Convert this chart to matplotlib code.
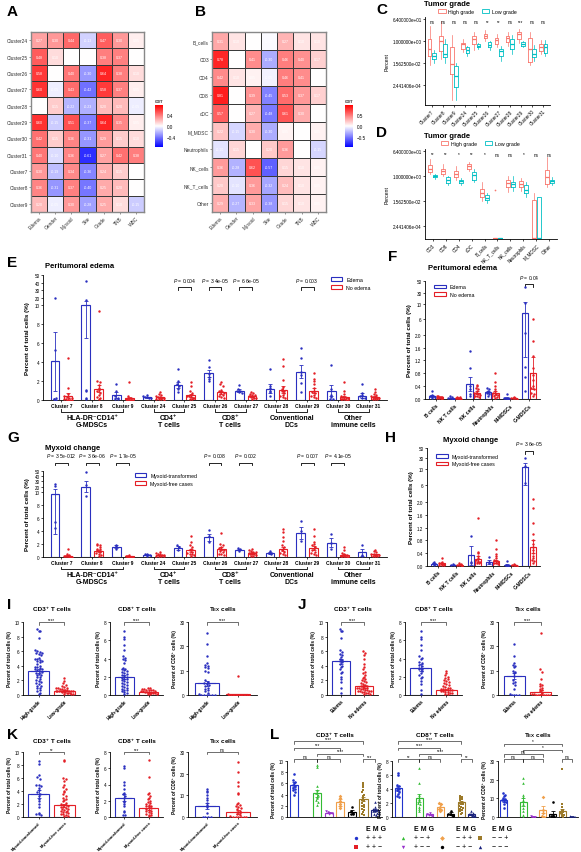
import numpy as np
import matplotlib.pyplot as plt
from matplotlib.colors import LinearSegmentedColormap
from matplotlib.patches import Patch

plt.rcParams['font.family'] = ['Liberation Sans', 'DejaVu Sans']
plt.rcParams['mathtext.fontset'] = 'custom'
plt.rcParams['mathtext.rm'] = 'Liberation Sans'
plt.rcParams['mathtext.it'] = 'Liberation Sans:italic'
plt.rcParams['mathtext.bf'] = 'Liberation Sans:bold'
plt.rcParams['axes.linewidth'] = 0.6
plt.rcParams['xtick.major.width'] = 0.5
plt.rcParams['ytick.major.width'] = 0.5
plt.rcParams['xtick.major.size'] = 1.5
plt.rcParams['ytick.major.size'] = 1.5
plt.rcParams['xtick.major.pad'] = 1
plt.rcParams['ytick.major.pad'] = 1

# ---------------- data ----------------
clin_cols = ['Edema', 'Gender', 'Myxoid', 'Site', 'Grade', 'TNB', 'WBC']

a_rows = ['Cluster24', 'Cluster25', 'Cluster26', 'Cluster27', 'Cluster28', 'Cluster29',
          'Cluster30', 'Cluster31', 'Cluster7', 'Cluster8', 'Cluster9']
a_corr = [[0.27, 0.30, 0.44, -0.13, 0.47, 0.30, 0.05],
          [0.48, 0.10, 0.00, 0.00, 0.38, 0.37, 0.00],
          [0.58, 0.00, 0.40, -0.30, 0.64, 0.38, 0.10],
          [0.60, -0.05, 0.43, -0.42, 0.58, 0.37, 0.05],
          [0.00, 0.15, -0.22, -0.23, 0.20, 0.20, -0.05],
          [0.60, -0.15, 0.51, -0.37, 0.64, 0.35, 0.05],
          [0.42, 0.15, 0.36, -0.31, 0.29, 0.15, 0.10],
          [0.40, -0.10, 0.36, -0.61, 0.27, 0.42, 0.38],
          [0.30, -0.19, 0.34, -0.36, 0.24, 0.15, 0.00],
          [0.36, -0.31, 0.37, -0.40, 0.25, 0.20, 0.00],
          [0.20, -0.05, 0.30, -0.28, 0.25, 0.10, -0.15]]

b_rows = ['B_cells', 'CD3', 'CD4', 'CD8', 'cDC', 'M_MDSC', 'Neutrophils',
          'NK_cells', 'NK_T_cells', 'Other']
b_corr = [[0.31, 0.10, 0.00, -0.02, 0.27, 0.10, 0.10],
          [0.78, 0.00, 0.41, -0.30, 0.46, 0.40, 0.17],
          [0.42, 0.10, 0.05, -0.05, 0.46, 0.41, 0.00],
          [0.81, 0.00, 0.39, -0.45, 0.53, 0.37, 0.17],
          [0.57, 0.00, 0.27, -0.48, 0.61, 0.30, 0.00],
          [0.22, -0.15, 0.30, -0.30, 0.05, 0.00, 0.05],
          [-0.10, 0.15, 0.00, 0.20, 0.36, 0.00, -0.15],
          [0.36, -0.28, 0.62, -0.57, 0.15, 0.10, 0.05],
          [0.20, -0.10, 0.36, -0.32, 0.24, 0.10, 0.05],
          [0.29, -0.27, 0.33, -0.38, 0.15, 0.10, 0.05]]

# tumor grade box plots (log2 of percent)
c_cats = ['Cluster7', 'Cluster8', 'Cluster9', 'Cluster24', 'Cluster25', 'Cluster26',
          'Cluster27', 'Cluster28', 'Cluster29', 'Cluster30', 'Cluster31']
c_sig = ['ns', 'ns', 'ns', 'ns', 'ns', '**', '**', 'ns', '***', 'ns', 'ns']
c_high_med = [-2.3, 0.0, -6.4, -0.9, 0.45, 1.4, 0.2, 0.7, 1.8, -2.3, -1.8]
c_high_q1 = [-4.1, -2.7, -9.0, -2.3, -0.9, 0.7, -0.9, -0.45, 0.45, -5.9, -2.7]
c_high_q3 = [0.45, 1.4, -1.8, -0.5, 1.4, 2.0, 0.9, 1.4, 2.3, 0.9, -0.9]
c_high_lo = [-6.5, -5.0, -16.0, -3.0, -2.5, 0.0, -1.8, -1.5, -0.5, -6.5, -3.5]
c_high_hi = [4.0, 5.5, 1.5, 0.5, 2.5, 3.0, 1.8, 2.5, 3.2, 2.5, 0.3]
c_low_med = [-4.1, -3.6, -9.5, -2.5, -1.4, -1.1, -2.9, -0.9, -0.9, -3.6, -1.8]
c_low_q1 = [-5.0, -4.5, -12.7, -3.2, -1.8, -1.8, -4.1, -2.3, -1.4, -4.5, -3.2]
c_low_q3 = [-3.2, -0.9, -6.8, -1.8, -0.9, -0.45, -2.3, 0.45, -0.45, -2.3, -0.9]
c_low_lo = [-6.0, -6.0, -16.0, -4.0, -2.2, -2.5, -5.5, -3.5, -1.8, -5.5, -4.0]
c_low_hi = [-2.5, 0.5, -6.0, -1.3, -0.5, 0.0, -1.5, 1.5, 0.0, -1.0, 0.2]

d_cats = ['CD3', 'CD8', 'CD4', 'cDC', 'B_cells', 'NK_T_cells', 'NK_cells',
          'Neutrophils', 'M_MDSC', 'Other']
d_sig = ['**', '**', '*', '**', '*', 'ns', 'ns', '*', 'ns', 'ns']
d_high_med = [1.8, 1.3, 0.6, 2.4, -4.0, -14.7, -1.6, -1.8, -14.7, -0.2]
d_high_q1 = [1.0, 0.6, -0.2, 1.8, -5.0, -14.7, -2.6, -2.6, -14.7, -1.8]
d_high_q3 = [2.6, 1.8, 1.3, 2.8, -3.0, -14.7, -1.0, -1.1, -5.8, 1.4]
d_high_lo = [0.5, 0.0, -1.0, 1.2, -6.0, -14.7, -3.8, -3.5, -14.7, -2.5]
d_high_hi = [4.0, 3.0, 2.5, 3.3, -1.5, -14.7, 0.0, -0.5, -4.0, 4.5]
d_low_med = [0.0, -1.0, -1.1, 0.2, -5.1, -14.7, -1.9, -3.4, -14.7, -1.1]
d_low_q1 = [-0.3, -1.6, -1.6, -0.8, -5.8, -14.7, -2.6, -4.0, -14.7, -1.6]
d_low_q3 = [0.2, -0.3, -0.8, 1.0, -4.6, -14.7, -1.4, -2.2, -5.0, -0.8]
d_low_lo = [-0.6, -2.2, -2.0, -1.5, -6.5, -14.7, -3.5, -5.0, -14.7, -2.0]
d_low_hi = [0.6, 0.0, -0.4, 1.8, -4.0, -14.7, 0.0, -1.5, -5.0, -0.3]

# clusters, peritumoral edema
clusters = ['Cluster 7', 'Cluster 8', 'Cluster 9', 'Cluster 24', 'Cluster 25', 'Cluster 26',
            'Cluster 27', 'Cluster 28', 'Cluster 29', 'Cluster 30', 'Cluster 31']
e_edema_mean = [4.1, 11.0, 0.5, 0.3, 1.6, 2.8, 1.0, 1.2, 3.0, 1.0, 0.45]
e_edema_sem = [3.1, 4.5, 0.3, 0.05, 0.35, 0.4, 0.15, 0.45, 0.7, 0.6, 0.25]
e_edema_pts = [[19, 5.3, 0.15, 0.1, 0.05, 0.2],
               [42, 17, 1.1, 0.9, 0.2, 0.1],
               [1.7, 0.9, 0.4, 0.2, 0.1, 0.1],
               [0.5, 0.4, 0.3, 0.3, 0.2, 0.2],
               [3.3, 2.0, 1.7, 1.5, 1.2, 0.8],
               [4.2, 3.5, 2.7, 2.4, 2.2, 2.0],
               [1.6, 1.2, 1.0, 0.9, 0.8, 0.7],
               [3.3, 1.5, 1.3, 1.0, 0.8, 0.4],
               [5.5, 4.4, 3.0, 2.6, 1.8, 0.8],
               [3.7, 1.2, 0.5, 0.3, 0.1, 0.1],
               [1.7, 0.7, 0.5, 0.4, 0.2, 0.2]]
e_noedema_mean = [0.4, 1.2, 0.2, 0.3, 0.5, 0.8, 0.4, 1.1, 1.0, 0.3, 0.35]
e_noedema_sem = [0.35, 0.4, 0.15, 0.06, 0.15, 0.15, 0.06, 0.35, 0.25, 0.15, 0.1]
e_noedema_pts = [[4.4, 1.3, 0.6, 0.4, 0.3, 0.2, 0.2, 0.1, 0.1, 0.05, 0.05, 0.0],
                 [9.4, 2.0, 1.9, 1.6, 1.3, 1.1, 0.9, 0.7, 0.5, 0.3, 0.2, 0.1],
                 [1.9, 0.4, 0.2, 0.1, 0.1, 0.05, 0.05, 0.0, 0.0, 0.0, 0.0, 0.0],
                 [0.8, 0.6, 0.5, 0.4, 0.3, 0.3, 0.2, 0.2, 0.1, 0.1, 0.1, 0.05],
                 [1.9, 1.5, 0.9, 0.7, 0.5, 0.4, 0.4, 0.3, 0.2, 0.2, 0.1, 0.1],
                 [1.9, 1.7, 1.5, 1.1, 0.9, 0.8, 0.7, 0.6, 0.5, 0.4, 0.3, 0.2],
                 [0.8, 0.7, 0.6, 0.5, 0.5, 0.4, 0.4, 0.3, 0.3, 0.2, 0.2, 0.1],
                 [4.3, 3.6, 2.1, 1.4, 1.2, 1.0, 0.9, 0.7, 0.5, 0.4, 0.3, 0.2],
                 [2.9, 2.2, 2.0, 1.7, 1.3, 1.0, 0.8, 0.7, 0.5, 0.4, 0.3, 0.2],
                 [1.9, 1.0, 0.6, 0.4, 0.3, 0.2, 0.2, 0.1, 0.1, 0.1, 0.0, 0.0],
                 [1.2, 0.8, 0.6, 0.5, 0.4, 0.3, 0.3, 0.2, 0.2, 0.1, 0.1, 0.1]]
e_pvals = {4: '0.004', 5: '3.4e-05', 6: '6.6e-05', 8: '0.003'}

# clusters, myxoid change
g_myx_mean = [9.6, 20.0, 1.6, 0.35, 1.4, 3.0, 1.15, 0.6, 3.7, 2.2, 0.7]
g_myx_sem = [6.0, 10.0, 0.2, 0.07, 0.25, 0.55, 0.15, 0.15, 0.9, 0.7, 0.5]
g_myx_pts = [[25, 22, 5.3, 4.4], [48, 24, 9.4], [1.9, 1.7, 1.3], [0.5, 0.4, 0.3, 0.2],
             [1.8, 1.6, 1.0], [4.2, 3.2, 2.3], [1.4, 1.2, 0.9], [0.9, 0.6, 0.4],
             [5.5, 4.0, 2.5], [3.6, 2.1, 1.3], [1.8, 0.3, 0.2]]
g_free_mean = [0.2, 0.9, 0.1, 0.3, 1.0, 1.3, 0.6, 1.2, 1.4, 0.3, 0.4]
g_free_sem = [0.1, 0.2, 0.04, 0.06, 0.25, 0.25, 0.1, 0.35, 0.35, 0.12, 0.1]
g_free_pts = [[1.3, 0.4, 0.3, 0.2, 0.2, 0.1, 0.1, 0.1, 0.05, 0.05, 0.0, 0.0],
              [2.0, 1.9, 1.8, 1.5, 1.3, 1.2, 1.0, 0.8, 0.6, 0.5, 0.3, 0.2],
              [0.3, 0.2, 0.1, 0.1, 0.05, 0.05, 0.0, 0.0],
              [0.8, 0.6, 0.5, 0.4, 0.3, 0.3, 0.2, 0.2, 0.1, 0.1],
              [3.3, 2.3, 1.8, 1.5, 1.2, 1.0, 0.8, 0.6, 0.5, 0.4, 0.3, 0.2],
              [3.7, 2.0, 1.9, 1.6, 1.4, 1.3, 1.1, 0.9, 0.7, 0.5, 0.4, 0.3],
              [1.3, 1.0, 0.9, 0.8, 0.7, 0.6, 0.5, 0.4, 0.4, 0.3, 0.2, 0.1],
              [4.3, 3.8, 3.1, 2.4, 1.8, 1.5, 1.2, 1.0, 0.8, 0.6, 0.4, 0.3],
              [4.3, 3.2, 2.3, 2.0, 1.8, 1.5, 1.2, 1.0, 0.8, 0.6, 0.4, 0.3],
              [1.5, 1.0, 0.6, 0.4, 0.3, 0.2, 0.1, 0.1, 0.1, 0.0, 0.0],
              [1.1, 0.9, 0.7, 0.5, 0.4, 0.3, 0.3, 0.2, 0.1, 0.1]]
g_pvals = {0: '3.5e-012', 1: '3.6e-06', 2: '1.7e-05', 5: '0.008', 6: '0.002',
           8: '0.007', 9: '4.1e-05'}

# other immune cells
cell_types = ['B cells', 'NK T cells', 'NK cells', 'Neutrophils', 'M-MDSCs', 'G-MDSCs']
f_edema_mean = [0.1, 0.03, 0.48, 0.22, 0.03, 7.8]
f_edema_sem = [0.03, 0.01, 0.22, 0.04, 0.02, 6.5]
f_edema_pts = [[0.25, 0.12, 0.1, 0.08, 0.05, 0.03], [0.08, 0.05, 0.04, 0.02, 0.01, 0.0],
               [1.5, 0.95, 0.4, 0.3, 0.15, 0.1], [0.35, 0.3, 0.25, 0.2, 0.15, 0.1],
               [0.15, 0.03, 0.02, 0.01, 0.0, 0.0], [40, 12, 2.5, 1.0, 0.7, 0.25]]
f_noedema_mean = [0.05, 0.03, 0.2, 0.18, 0.03, 0.8]
f_noedema_sem = [0.01, 0.01, 0.04, 0.06, 0.005, 0.5]
f_noedema_pts = [[0.1, 0.08, 0.07, 0.06, 0.05, 0.05, 0.04, 0.03, 0.02, 0.01],
                 [0.06, 0.05, 0.04, 0.03, 0.02, 0.02, 0.01, 0.0],
                 [0.45, 0.42, 0.35, 0.3, 0.25, 0.2, 0.18, 0.15, 0.12, 0.1, 0.08, 0.05],
                 [0.8, 0.52, 0.4, 0.3, 0.25, 0.2, 0.18, 0.15, 0.12, 0.1, 0.05, 0.03],
                 [0.05, 0.04, 0.03, 0.02, 0.02, 0.01],
                 [6.2, 1.8, 1.35, 0.95, 0.75, 0.6, 0.4, 0.35, 0.3, 0.2, 0.15, 0.1]]
h_myx_mean = [0.07, 0.03, 0.33, 0.13, 0.03, 13.0]
h_myx_sem = [0.02, 0.01, 0.3, 0.06, 0.04, 7.0]
h_myx_pts = [[0.12, 0.08, 0.05, 0.03], [0.05, 0.04, 0.02], [0.95, 0.12, 0.1],
             [0.28, 0.12, 0.08], [0.15, 0.03, 0.01], [31, 14, 6.5]]
h_free_mean = [0.08, 0.04, 0.22, 0.15, 0.03, 0.6]
h_free_sem = [0.02, 0.01, 0.08, 0.05, 0.005, 0.2]
h_free_pts = [[0.25, 0.12, 0.1, 0.08, 0.06, 0.05, 0.04, 0.03, 0.02],
              [0.08, 0.05, 0.04, 0.03, 0.02, 0.01],
              [1.5, 0.45, 0.4, 0.3, 0.25, 0.2, 0.15, 0.12, 0.1, 0.08],
              [0.8, 0.52, 0.38, 0.3, 0.25, 0.2, 0.15, 0.12, 0.1, 0.08, 0.05],
              [0.05, 0.04, 0.03, 0.02, 0.01],
              [2.8, 1.8, 1.35, 1.0, 0.8, 0.7, 0.6, 0.5, 0.4, 0.3, 0.25, 0.2, 0.15, 0.1]]

# I: tumor grade
i_cd3_high = [9.1, 8.8, 8.7, 7.8, 6.1, 6.0, 5.9, 5.8, 5.7, 5.6, 5.5, 5.1, 5.0, 4.9, 4.8, 4.7,
              4.6, 4.5, 4.2, 4.0, 3.9, 3.8, 3.7, 3.6, 3.5, 3.4, 3.3, 3.2, 3.0, 2.9, 2.8, 2.7,
              2.5, 2.4, 2.2, 2.0, 1.9, 1.8, 1.6, 1.5, 1.3, 1.2, 1.0, 0.9, 0.7, 0.5, 0.3, 0.1]
i_cd3_low = [2.3, 1.9, 1.6, 1.4, 1.2, 1.1, 1.0, 0.9, 0.9, 0.8, 0.8, 0.7, 0.7, 0.7, 0.6, 0.6,
             0.6, 0.5, 0.5, 0.5, 0.5, 0.4, 0.4, 0.4, 0.3, 0.3, 0.3, 0.2, 0.2, 0.1]
i_cd8_high = [7.0, 6.4, 6.1, 5.5, 4.9, 4.3, 4.1, 3.9, 3.8, 3.5, 3.0, 2.9, 2.8, 2.7, 2.6, 2.5,
              2.4, 2.3, 2.2, 2.1, 2.0, 1.9, 1.8, 1.7, 1.6, 1.5, 1.4, 1.3, 1.2, 1.1, 1.0, 0.9,
              0.8, 0.7, 0.6, 0.5, 0.4, 0.3, 0.2, 0.1]
i_cd8_low = [0.8, 0.75, 0.7, 0.65, 0.6, 0.55, 0.5, 0.5, 0.45, 0.4, 0.4, 0.35, 0.3, 0.3, 0.25,
             0.2, 0.2, 0.15, 0.1, 0.1]
i_tex_high = [25.5, 21, 16, 13, 12.5, 12, 11.5, 11, 10, 9.5, 6, 5.5, 5, 4.5, 4, 3.5, 3, 2.5,
              2, 1.5, 1, 0.5, 0, 0, 0, 0, 0, 0]
i_tex_low = [8, 0.3, 0.2, 0.1, 0.1, 0, 0, 0, 0, 0, 0, 0, 0, 0, 0]
i_means = [(3.3, 0.6), (2.0, 0.3), (4.8, 0.3)]
i_sems = [(0.3, 0.07), (0.2, 0.04), (1.0, 0.2)]

# J: peritumoral edema
j_cd3_edema = [9.1, 8.8, 8.7, 7.8, 6.1, 5.9, 5.6, 5.5, 5.2, 5.0, 4.8, 4.6, 4.5, 4.2, 4.0,
               3.8, 3.5, 3.2, 3.0, 2.5, 2.2, 1.8, 0.9, 0.3]
j_cd3_no = [6.0, 5.8, 5.5, 5.0, 4.2, 3.8, 3.5, 3.2, 3.0, 2.8, 2.5, 2.3, 2.2, 2.0, 1.9, 1.8,
            1.6, 1.5, 1.4, 1.3, 1.2, 1.1, 1.0, 1.0, 0.9, 0.9, 0.8, 0.8, 0.7, 0.7, 0.6, 0.6,
            0.5, 0.5, 0.4, 0.4, 0.3, 0.3, 0.2, 0.1]
j_cd8_edema = [7.0, 6.4, 6.1, 5.5, 4.9, 4.3, 4.1, 3.9, 3.6, 3.5, 3.3, 3.2, 3.0, 2.9, 2.8,
               2.6, 2.4, 2.2, 2.0, 1.9, 1.5, 1.2, 0.5, 0.1]
j_cd8_no = [2.6, 2.4, 2.2, 2.0, 1.9, 1.7, 1.6, 1.5, 1.4, 1.3, 1.2, 1.1, 1.0, 0.9, 0.8, 0.8,
            0.7, 0.7, 0.6, 0.6, 0.5, 0.5, 0.4, 0.4, 0.3, 0.3, 0.2, 0.2, 0.1, 0.1]
j_tex_edema = [21, 16, 13, 12.5, 12, 11.5, 10, 9.5, 9, 8, 6, 5.5, 5, 4, 2.5, 0.5, 0, 0, 0, 0]
j_tex_no = [25.5, 10.5, 9.5, 6.5, 4.5, 4, 3.5, 3, 2.5, 2, 1.5, 1, 0.5, 0.3, 0, 0, 0, 0, 0,
            0, 0, 0]
j_means = [(4.6, 1.2), (3.0, 0.6), (7.8, 1.3)]
j_sems = [(0.4, 0.2), (0.35, 0.1), (1.4, 0.7)]

# K: myxoid change
k_cd3_myx = [8.6, 8.2, 6.4, 6.1, 5.9, 5.0, 4.9, 4.7, 4.4, 4.2, 3.9, 3.6, 3.3, 2.8, 2.5, 2.0,
             1.5, 0.6, 0.5, 0.4, 0.3]
k_cd3_free = [8.8, 8.6, 6.0, 5.8, 5.5, 5.0, 4.6, 4.3, 4.0, 3.8, 3.5, 3.3, 3.0, 2.8, 2.6, 2.4,
              2.2, 2.0, 1.9, 1.8, 1.7, 1.6, 1.5, 1.4, 1.3, 1.2, 1.1, 1.0, 0.9, 0.8, 0.7, 0.6,
              0.5, 0.4, 0.3, 0.2, 0.1]
k_cd8_myx = [6.3, 6.0, 4.3, 4.0, 3.5, 3.0, 2.8, 2.6, 2.4, 2.0, 1.8, 1.6, 1.3, 0.8, 0.6, 0.3,
             0.2]
k_cd8_free = [7.0, 4.9, 3.0, 2.8, 2.6, 2.4, 2.2, 2.0, 1.8, 1.7, 1.6, 1.5, 1.4, 1.3, 1.2, 1.1,
              1.0, 0.9, 0.8, 0.7, 0.6, 0.5, 0.4, 0.3, 0.2, 0.1]
k_tex_myx = [13, 12, 11.5, 10, 9, 8, 6.5, 5.5, 4.5, 2, 0, 0, 0, 0]
k_tex_free = [25.5, 21, 16, 14.5, 11, 10.5, 6.5, 6, 5.5, 5, 4.5, 4, 3.5, 3, 2.5, 2, 1.5, 1,
              0.5, 0, 0, 0, 0, 0, 0]
k_means = [(3.6, 1.8), (2.4, 1.1), (5.2, 2.3)]
k_sems = [(0.6, 0.25), (0.45, 0.2), (1.4, 0.9)]

# L: combined E/M/G groups (second group, E+ M+ G-, has no samples)
l_means = [[5.8, np.nan, 4.2, 0.8, 2.6, 0.9, 3.2, 1.2],
           [4.1, np.nan, 2.7, 0.4, 1.5, 0.5, 2.1, 0.4],
           [9.0, np.nan, 8.0, 0.2, 4.0, 1.8, 3.0, 0.2]]
l_sems = [[0.4, np.nan, 0.6, 0.15, 0.6, 0.35, 0.35, 0.2],
          [0.35, np.nan, 0.55, 0.1, 0.35, 0.15, 0.2, 0.07],
          [0.9, np.nan, 2.2, 0.1, 2.0, 1.5, 1.2, 0.1]]
l_pts = [[[7.7, 6.6, 6.3, 6.0, 5.8, 5.5, 5.2, 5.0, 4.8, 4.5, 3.9], [],
          [9.3, 9.0, 5.6, 4.8, 4.3, 4.0, 3.6, 3.4, 3.0, 2.6, 2.2], [1.1, 0.9, 0.8, 0.7, 0.6],
          [3.7, 3.4, 2.9, 2.4, 1.9, 1.6], [1.8, 1.0, 0.8, 0.6, 0.5],
          [6.0, 5.8, 5.3, 4.8, 4.4, 4.0, 3.7, 3.4, 3.0, 2.8, 2.5, 2.2, 2.0, 1.8, 1.5, 1.2,
           0.9, 0.6, 0.3],
          [2.6, 1.8, 1.5, 1.3, 1.2, 1.1, 1.0, 0.8, 0.6, 0.4]],
         [[6.3, 6.0, 4.6, 4.4, 4.2, 4.0, 3.8, 3.6, 3.3, 3.0, 2.8], [],
          [7.0, 4.9, 3.2, 2.8, 2.6, 2.4, 2.0, 1.8, 1.5, 1.2, 0.9], [0.6, 0.4, 0.3, 0.3, 0.2],
          [2.0, 1.8, 1.5, 1.2, 1.0, 0.8], [0.8, 0.5, 0.4, 0.3, 0.2],
          [3.0, 2.9, 2.7, 2.6, 2.4, 2.2, 2.0, 1.9, 1.8, 1.6, 1.5, 1.3, 1.2, 1.0, 0.8, 0.6, 0.4],
          [0.8, 0.6, 0.5, 0.4, 0.4, 0.3, 0.3, 0.2, 0.2, 0.1]],
         [[13, 12, 11.5, 10, 9.5, 9, 8.5, 8, 7, 5], [],
          [21, 18, 12, 10.5, 9, 7, 5, 3, 1, 0], [0.3, 0.2, 0.1],
          [10.5, 4, 2, 0.5, 0], [8, 1, 0.3, 0, 0],
          [25.5, 7, 5.5, 4, 3.5, 3, 2.5, 2, 1.5, 1, 0.5, 0],
          [0.3, 0.2, 0.1, 0]]]
l_signs = ['+ + +', '+ + \u2212', '+ \u2212 +', '+ \u2212 \u2212',
           '\u2212 + +', '\u2212 + \u2212', '\u2212 \u2212 +', '\u2212 \u2212 \u2212']
# (group a, group b, level, label)
l_brackets = [[(0, 2, 1.03, 'ns'), (2, 4, 1.03, 'ns'), (6, 7, 1.03, '***'),
               (2, 6, 1.13, '****'), (0, 4, 1.24, '***'), (0, 6, 1.35, '****')],
              [(0, 2, 1.03, '**'), (2, 4, 1.03, 'ns'), (6, 7, 1.03, '**'),
               (2, 6, 1.13, '****'), (0, 4, 1.24, '****'), (0, 6, 1.35, '****')],
              [(0, 2, 1.03, 'ns'), (2, 4, 1.03, 'ns'), (6, 7, 1.03, 'ns'),
               (0, 4, 1.12, 'ns'), (2, 6, 1.2, '*'), (0, 6, 1.31, '*')]]

# ---------------- styles ----------------
BLUE = '#2a2fbf'
RED = '#e41f26'
HIGH = '#F8766D'
LOW = '#00BFC4'
l_colors = ['#2233cc', '#e41f26', '#33bb33', '#9933cc', '#f0a04b', '#000000', '#9c7a2a', '#1a237e']
l_markers = ['o', 's', '^', 'v', 'D', 'o', 's', '^']

W, H = 581, 853
fig = plt.figure(figsize=(W / 100, H / 100), dpi=100)


def add_ax(l, t, r, b):
    return fig.add_axes([l / W, 1 - b / H, (r - l) / W, (b - t) / H])


def px_text(x, y, s, **kw):
    fig.text(x / W, 1 - y / H, s, **kw)


def clean(ax):
    ax.spines['top'].set_visible(False)
    ax.spines['right'].set_visible(False)


def swarm(vals, step, dx, maxw):
    v = np.asarray(vals, float)
    offs = np.zeros(len(v))
    bins = np.round(v / step)
    for b in np.unique(bins):
        idx = np.where(bins == b)[0]
        n = len(idx)
        d = min(dx, maxw / max(n - 1, 1))
        offs[idx] = (np.arange(n) - (n - 1) / 2) * d
    return offs


def bar_pts(ax, x, mean, sem, pts, color, width, step, dx, marker='o', s=3, tf=None):
    if np.isnan(mean):
        return
    ax.bar(x, mean, width, facecolor='white', edgecolor=color, linewidth=0.8, zorder=2)
    tv = tf(np.asarray(pts, float)) if tf else np.asarray(pts, float)
    if len(pts):
        offs = swarm(tv, step, dx, width * 0.85)
        ax.scatter(x + offs, pts, s=s, color=color, marker=marker, linewidths=0, zorder=3)
    ax.errorbar(x, mean, yerr=sem, color=color, capsize=1.2, elinewidth=0.6,
                capthick=0.6, zorder=4)
    ax.plot([x - width * 0.35, x + width * 0.35], [mean, mean], color=color, lw=0.8, zorder=4)


def bracket(ax, x1, x2, y, text, tick=0.03, fs=3.3):
    tr = ax.get_xaxis_transform()
    ax.plot([x1, x1, x2, x2], [y - tick, y, y, y - tick], transform=tr, color='k',
            lw=0.4, clip_on=False)
    ax.text((x1 + x2) / 2, y + 0.005, text, transform=tr, ha='center', va='bottom',
            fontsize=fs, clip_on=False)


def piecewise(ax, xs, ys):
    xs = np.asarray(xs, float)
    ys = np.asarray(ys, float)
    fwd = lambda v: np.interp(v, xs, ys)
    inv = lambda v: np.interp(v, ys, xs)
    ax.set_yscale('function', functions=(fwd, inv))
    return fwd


# ---------------- A / B heatmaps ----------------
corr_cmap = LinearSegmentedColormap.from_list('corr', ['#0000ff', '#ffffff', '#ff0000'])


def heatmap(ax, cax, data, rows, vmax, cticks):
    data = np.array(data)
    m = ax.pcolormesh(data, cmap=corr_cmap, vmin=-vmax, vmax=vmax,
                      edgecolors='#3a3a3a', linewidth=0.5)
    ax.set_xlim(0, data.shape[1])
    ax.set_ylim(data.shape[0], 0)
    ax.set_xticks(np.arange(data.shape[1]) + 0.5)
    ax.set_xticklabels(clin_cols, rotation=45, ha='right', rotation_mode='anchor',
                       fontsize=3.5, color='#333333')
    ax.set_yticks(np.arange(len(rows)) + 0.5)
    ax.set_yticklabels(rows, fontsize=3.5, color='#333333')
    ax.tick_params(length=1.2, color='#666666')
    for sp in ax.spines.values():
        sp.set_color('#888888')
        sp.set_linewidth(1.0)
    for i in range(data.shape[0]):
        for j in range(data.shape[1]):
            ax.text(j + 0.5, i + 0.5, f'{data[i, j]:.2f}', ha='center', va='center',
                    fontsize=2.6, color='white')
    cb = fig.colorbar(m, cax=cax, ticks=cticks)
    cb.outline.set_visible(False)
    cax.tick_params(labelsize=3.3, length=1.5, color='white', pad=1)
    cax.set_title('corr', fontsize=3.5, loc='left', pad=2)


heatmap(add_ax(31, 33, 144, 213), add_ax(155, 106, 163, 148), a_corr, a_rows, 0.75,
        [-0.4, 0.0, 0.4])
heatmap(add_ax(212, 33, 326, 213), add_ax(345, 106, 353, 148), b_corr, b_rows, 0.92,
        [-0.5, 0.0, 0.5])


# ---------------- C / D box plots ----------------
def grade_boxes(ax, cats, sig, hi_stats, lo_stats, ylo):
    ax.set_yscale('log', base=2)
    x = np.arange(len(cats))
    for st, off, col in ((hi_stats, -0.19, HIGH), (lo_stats, 0.19, LOW)):
        med, q1, q3, lo, hi = st
        bs = [dict(med=2.0 ** med[i], q1=2.0 ** q1[i], q3=2.0 ** q3[i],
                   whislo=2.0 ** lo[i], whishi=2.0 ** hi[i], fliers=[]) for i in range(len(cats))]
        ax.bxp(bs, positions=x + off, widths=0.32, showfliers=False, showcaps=False,
               boxprops=dict(color=col, lw=0.6), medianprops=dict(color=col, lw=0.9),
               whiskerprops=dict(color=col, lw=0.5))
    for i, s in enumerate(sig):
        ax.text(i, 2 ** 5.3, s, ha='center', va='center', fontsize=3.3)
    ax.set_xlim(-0.6, len(cats) - 0.4)
    ax.set_ylim(2.0 ** ylo, 2.0 ** 6.5)
    ax.set_yticks([2.0 ** 6, 1.0, 2.0 ** -6, 2.0 ** -12])
    ax.set_yticklabels(['6.400000e+01', '1.000000e+00', '1.562500e-02', '2.441406e-04'],
                       fontsize=3.3)
    ax.yaxis.set_minor_locator(plt.NullLocator())
    ax.set_xticks(x)
    ax.set_xticklabels(cats, rotation=45, ha='right', rotation_mode='anchor', fontsize=3.3)
    ax.set_ylabel('Percent', fontsize=3.8, labelpad=2)
    clean(ax)
    handles = [Patch(facecolor='white', edgecolor=HIGH, lw=0.6, label='High grade'),
               Patch(facecolor='white', edgecolor=LOW, lw=0.6, label='Low grade')]
    ax.legend(handles=handles, ncol=2, loc='center', bbox_to_anchor=(0.42, 1.06),
              frameon=False, fontsize=3.8, handlelength=1.4, handleheight=0.8,
              columnspacing=1.5, handletextpad=0.5, borderaxespad=0)


ax_c = add_ax(425, 18, 550, 106)
grade_boxes(ax_c, c_cats, c_sig,
            (c_high_med, c_high_q1, c_high_q3, c_high_lo, c_high_hi),
            (c_low_med, c_low_q1, c_low_q3, c_low_lo, c_low_hi), -17.5)
ax_d = add_ax(425, 150, 557, 240)
grade_boxes(ax_d, d_cats, d_sig,
            (d_high_med, d_high_q1, d_high_q3, d_high_lo, d_high_hi),
            (d_low_med, d_low_q1, d_low_q3, d_low_lo, d_low_hi), -15.0)
ax_d.scatter([5 - 0.19], [2.0 ** -3.4], s=1.5, color=HIGH, linewidths=0)
px_text(424, 4, 'Tumor grade', fontsize=5.5, fontweight='bold', va='center')
px_text(424, 136, 'Tumor grade', fontsize=5.5, fontweight='bold', va='center')


# ---------------- E / G cluster bars ----------------
groups = [('HLA-DR\u207bCD14\u207a\nG-MDSCs', 0, 2), ('CD4\u207a\nT cells', 3, 4),
          ('CD8\u207a\nT cells', 5, 6), ('Conventional\nDCs', 7, 8),
          ('Other\nimmune cells', 9, 10)]


def cluster_panel(ax, bm, bs, bp, rm, rs, rp, pvals, labels, step, ptext_y, br_y, grp_y,
                  leg_anchor):
    fwd = piecewise(ax, [0, 10, 50], [0, 10, 13.2])
    for i in range(len(clusters)):
        bar_pts(ax, i - 0.21, bm[i], bs[i], bp[i], BLUE, 0.28, step, 0.08, tf=fwd)
        bar_pts(ax, i + 0.21, rm[i], rs[i], rp[i], RED, 0.28, step, 0.08, tf=fwd)
    ax.set_ylim(0, 50)
    ax.set_xlim(-0.6, len(clusters) - 0.4)
    ax.set_yticks([0, 2, 4, 6, 8, 10, 20, 30, 40, 50])
    ax.set_yticklabels(['0', '2', '4', '6', '8', '10', '20', '30', '40', '50'], fontsize=3.3)
    ax.set_xticks(np.arange(len(clusters)))
    ax.set_xticklabels(clusters, fontsize=3.6, fontweight='bold')
    ax.set_ylabel('Percent of total cells (%)', fontsize=4.5, fontweight='bold', labelpad=3)
    clean(ax)
    tr = ax.get_xaxis_transform()
    for i, p in pvals.items():
        ax.plot([i - 0.21, i - 0.21, i + 0.21, i + 0.21],
                [br_y - 0.025, br_y, br_y, br_y - 0.025], transform=tr, color='k',
                lw=0.6, clip_on=False)
        ax.text(i, ptext_y, '$P$ = ' + p, transform=tr, ha='center', va='bottom',
                fontsize=3.6, clip_on=False)
    for name, a, b in groups:
        ax.plot([a, a, b, b], [grp_y + 0.025, grp_y, grp_y, grp_y + 0.025], transform=tr,
                color='k', lw=0.6, clip_on=False)
        ax.text((a + b) / 2, grp_y - 0.02, name, transform=tr, ha='center', va='top',
                fontsize=5, fontweight='bold', linespacing=1.0, clip_on=False)
    handles = [Patch(facecolor='white', edgecolor=BLUE, lw=0.8, label=labels[0]),
               Patch(facecolor='white', edgecolor=RED, lw=0.8, label=labels[1])]
    ax.legend(handles=handles, loc='upper left', bbox_to_anchor=leg_anchor, frameon=False,
              fontsize=3.8, handlelength=2.2, handleheight=0.7, labelspacing=0.5,
              borderaxespad=0)


ax_e = add_ax(43, 276, 387, 401)
cluster_panel(ax_e, e_edema_mean, e_edema_sem, e_edema_pts, e_noedema_mean, e_noedema_sem,
              e_noedema_pts, e_pvals, ['Edema', 'No edema'], 0.27, 0.93, 0.904, -0.096,
              (0.83, 1.0))
px_text(45, 266, 'Peritumoral edema', fontsize=5.5, fontweight='bold', va='center')

ax_g = add_ax(43, 472, 387, 558)
cluster_panel(ax_g, g_myx_mean, g_myx_sem, g_myx_pts, g_free_mean, g_free_sem, g_free_pts,
              g_pvals, ['Myxoid-transformed', 'Myxoid-free cases'], 0.4, 1.14, 1.093, -0.14,
              (0.26, 1.0))
px_text(45, 448, 'Myxoid change', fontsize=5.5, fontweight='bold', va='center')


# ---------------- F / H other immune cells ----------------
def cell_panel(ax, bm, bs, bp, rm, rs, rp, labels, ptext, ptext_y, br_y, k1, k2, leg_anchor):
    fwd = piecewise(ax, [0, 2, 10, 50], [0, 2, 2 + 8 * k1, 2 + 8 * k1 + 40 * k2])
    for i in range(len(cell_types)):
        bar_pts(ax, i - 0.2, bm[i], bs[i], bp[i], BLUE, 0.33, 0.08, 0.12, tf=fwd)
        bar_pts(ax, i + 0.2, rm[i], rs[i], rp[i], RED, 0.33, 0.08, 0.12, tf=fwd)
    ax.set_ylim(0, 50)
    ax.set_xlim(-0.6, len(cell_types) - 0.4)
    ticks = [0, 0.4, 0.8, 1.2, 1.6, 2.0, 6, 10, 30, 50]
    ax.set_yticks(ticks)
    ax.set_yticklabels(['0.0', '0.4', '0.8', '1.2', '1.6', '2.0', '6', '10', '30', '50'],
                       fontsize=3.3)
    ax.set_xticks(np.arange(len(cell_types)))
    ax.set_xticklabels(cell_types, rotation=45, ha='right', rotation_mode='anchor',
                       fontsize=3.6, fontweight='bold')
    ax.set_ylabel('Percent of total cells (%)', fontsize=4.5, fontweight='bold', labelpad=2)
    clean(ax)
    tr = ax.get_xaxis_transform()
    i = len(cell_types) - 1
    ax.plot([i - 0.2, i - 0.2, i + 0.2, i + 0.2], [br_y - 0.025, br_y, br_y, br_y - 0.025],
            transform=tr, color='k', lw=0.6, clip_on=False)
    ax.text(i, ptext_y, '$P$ = ' + ptext, transform=tr, ha='center', va='bottom',
            fontsize=3.6, clip_on=False)
    handles = [Patch(facecolor='white', edgecolor=BLUE, lw=0.8, label=labels[0]),
               Patch(facecolor='white', edgecolor=RED, lw=0.8, label=labels[1])]
    ax.legend(handles=handles, loc='upper left', bbox_to_anchor=leg_anchor, frameon=False,
              fontsize=3.8, handlelength=2.2, handleheight=0.7, labelspacing=0.5,
              borderaxespad=0)


ax_f = add_ax(425, 282, 540, 400)
cell_panel(ax_f, f_edema_mean, f_edema_sem, f_edema_pts, f_noedema_mean, f_noedema_sem,
           f_noedema_pts, ['Edema', 'No edema'], '0.04', 1.0, 0.975, 0.119, 0.018,
           (0.06, 0.99))
px_text(428, 268, 'Peritumoral edema', fontsize=5.5, fontweight='bold', va='center')

ax_h = add_ax(427, 449, 540, 567)
cell_panel(ax_h, h_myx_mean, h_myx_sem, h_myx_pts, h_free_mean, h_free_sem, h_free_pts,
           ['Myxoid-transformed', 'Myxoid-free cases'], '3.6e-05', 1.005, 0.975, 0.13, 0.016,
           (0.06, 0.97))
px_text(443, 441, 'Myxoid change', fontsize=5.5, fontweight='bold', va='center')


# ---------------- I / J / K two-group comparisons ----------------
def two_bar(ax, a_pts, b_pts, means, sems, ymax, yticks, xlabels, title, ylabel, star,
            title_y, xfs=3.4):
    step = ymax * 2.6 / 70
    bar_pts(ax, 0, means[0], sems[0], a_pts, BLUE, 0.78, step, 0.085)
    bar_pts(ax, 1, means[1], sems[1], b_pts, RED, 0.78, step, 0.085)
    ax.set_xlim(-0.6, 1.6)
    ax.set_ylim(0, ymax)
    ax.set_yticks(yticks)
    ax.set_yticklabels([str(t) for t in yticks], fontsize=3.3)
    ax.set_xticks([0, 1])
    ax.set_xticklabels(xlabels, rotation=45, ha='right', rotation_mode='anchor',
                       fontsize=xfs, fontweight='bold')
    ax.set_ylabel(ylabel, fontsize=3.4, fontweight='bold', labelpad=2)
    clean(ax)
    bracket(ax, 0, 1, 1.0, star, tick=0.035)
    ax.text(0.5, title_y, title, transform=ax.transAxes, ha='center', va='center',
            fontsize=4.6, fontweight='bold')


pct_total = 'Percent of total cells (%)'
pct_cd8 = 'Percent of CD8\u207a cells (%)'
titles = ['CD3\u207a T cells', 'CD8\u207a T cells', r'T$_{\mathbf{EX}}$ cells']
ymaxes = [10, 8, 30]
ytick_sets = [[0, 2, 4, 6, 8, 10], [0, 2, 4, 6, 8], [0, 10, 20, 30]]
ylabels = [pct_total, pct_total, pct_cd8]

i_sets = [(i_cd3_high, i_cd3_low), (i_cd8_high, i_cd8_low), (i_tex_high, i_tex_low)]
j_sets = [(j_cd3_edema, j_cd3_no), (j_cd8_edema, j_cd8_no), (j_tex_edema, j_tex_no)]
k_sets = [(k_cd3_myx, k_cd3_free), (k_cd8_myx, k_cd8_free), (k_tex_myx, k_tex_free)]
i_boxes = [(23, 80), (110, 163), (188, 257)]
j_boxes = [(327, 378), (405, 462), (498, 557)]
k_stars = ['**', '***', 'ns']

for n in range(3):
    ax = add_ax(i_boxes[n][0], 623, i_boxes[n][1], 696)
    two_bar(ax, i_sets[n][0], i_sets[n][1], i_means[n], i_sems[n], ymaxes[n], ytick_sets[n],
            ['High-grade', 'Low-grade'], titles[n], ylabels[n], '****', 1.19)
    ax = add_ax(j_boxes[n][0], 623, j_boxes[n][1], 696)
    two_bar(ax, j_sets[n][0], j_sets[n][1], j_means[n], j_sems[n], ymaxes[n], ytick_sets[n],
            ['Edema', 'No edema'], titles[n], ylabels[n], '****', 1.19)
    ax = add_ax(i_boxes[n][0], 753, i_boxes[n][1], 818)
    two_bar(ax, k_sets[n][0], k_sets[n][1], k_means[n], k_sems[n], ymaxes[n], ytick_sets[n],
            ['Myxoid-transformed', 'Myxoid-free cases'], titles[n], ylabels[n], k_stars[n],
            1.17, xfs=2.9)

# ---------------- L: E/M/G combinations ----------------
l_boxes = [(287, 382), (392, 478), (498, 578)]
for n in range(3):
    ax = add_ax(l_boxes[n][0], 762, l_boxes[n][1], 818)
    step = ymaxes[n] * 2.6 / 56
    for gi in range(8):
        bar_pts(ax, gi, l_means[n][gi], l_sems[n][gi], l_pts[n][gi], l_colors[gi], 0.7,
                step, 0.17, marker=l_markers[gi], s=3.5)
    ax.set_xlim(-0.6, 7.6)
    ax.set_ylim(0, ymaxes[n])
    ax.set_yticks(ytick_sets[n])
    ax.set_yticklabels([str(t) for t in ytick_sets[n]], fontsize=3.3)
    ax.set_xticks([])
    ax.set_ylabel(ylabels[n], fontsize=3.4, fontweight='bold', labelpad=2)
    clean(ax)
    for a, b, lev, lab in l_brackets[n]:
        bracket(ax, a, b, lev, lab, tick=0.04, fs=3.3)
    ax.text(0.5, 1.48, titles[n], transform=ax.transAxes, ha='center', va='center',
            fontsize=4.6, fontweight='bold')

# legend for L
lax = add_ax(340, 823, 560, 853)
lax.set_xlim(340, 560)
lax.set_ylim(853, 823)
lax.axis('off')
col_marker_x = [356, 403, 442, 480]
col_text_x = [366, 414, 456, 492]
for c in range(4):
    lax.text(col_text_x[c], 830, 'E M G', fontsize=5, fontweight='bold', ha='left',
             va='center')
    for r in range(2):
        gi = c * 2 + r
        y = 839 + r * 9
        lax.scatter([col_marker_x[c]], [y], s=6, marker=l_markers[gi], color=l_colors[gi],
                    linewidths=0)
        lax.text(col_text_x[c], y, l_signs[gi], fontsize=5, ha='left', va='center')

# ---------------- panel letters ----------------
for letter, x, y in [('A', 7, 12), ('B', 195, 12), ('C', 376, 10), ('D', 376, 133),
                     ('E', 7, 263), ('F', 388, 257), ('G', 7, 438), ('H', 385, 438),
                     ('I', 7, 605), ('J', 298, 605), ('K', 7, 735), ('L', 270, 735)]:
    px_text(x, y, letter, fontsize=11, fontweight='bold', va='center', ha='left')

fig.savefig('out.png', dpi=100)
